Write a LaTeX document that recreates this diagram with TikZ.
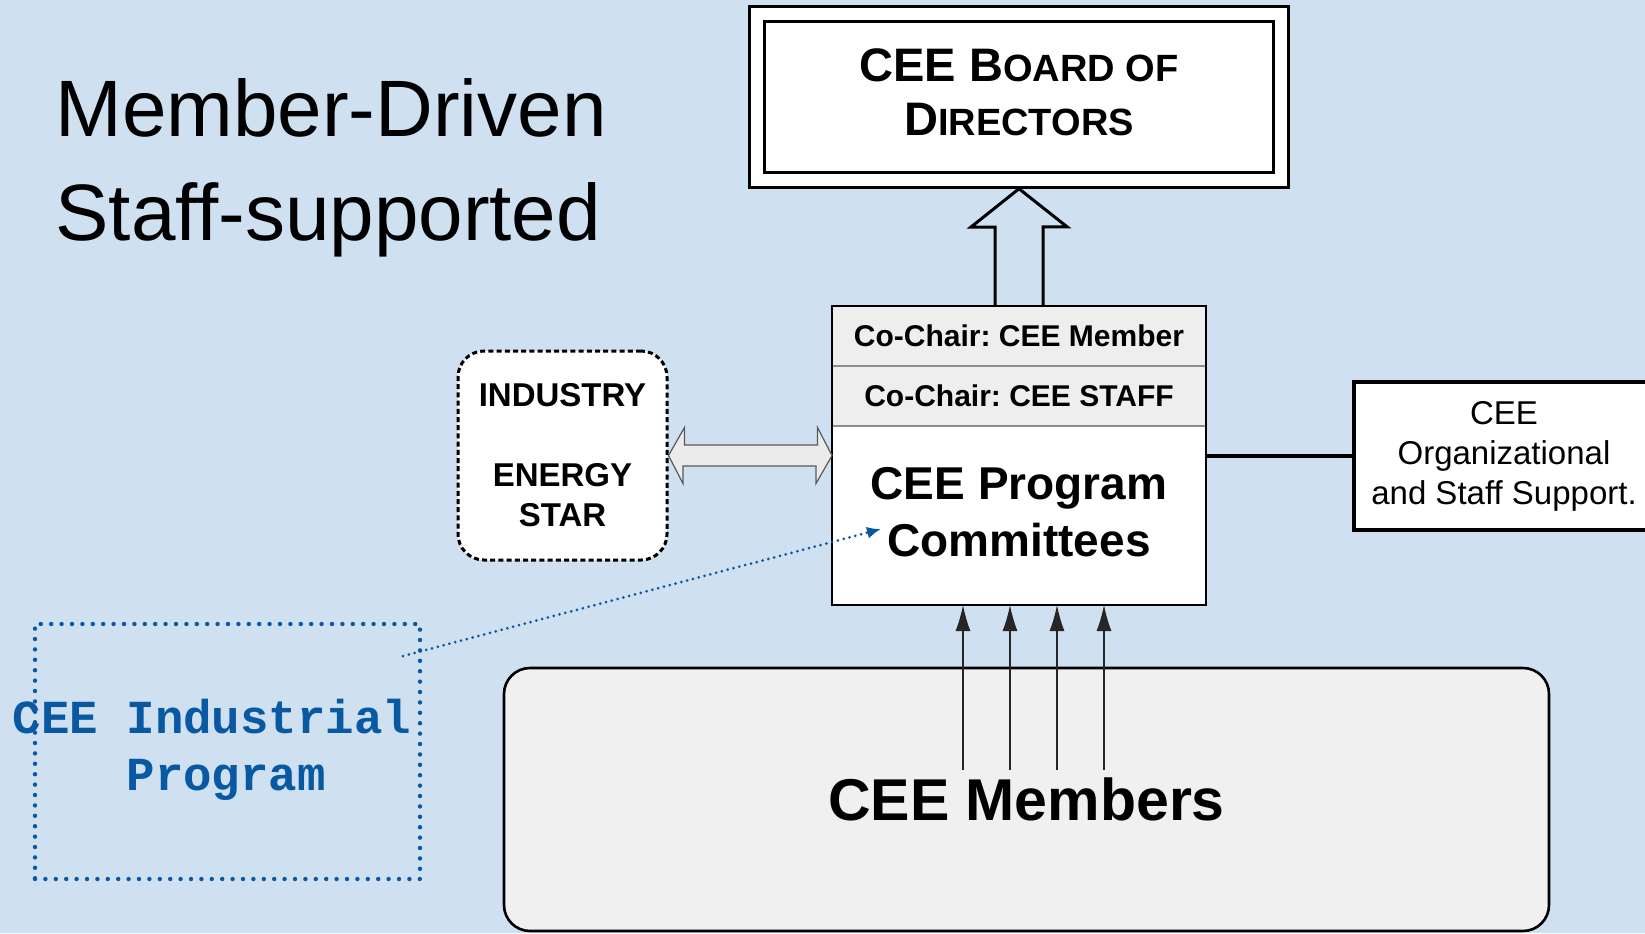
\documentclass[tikz,border=0pt]{standalone}
\usepackage{fontspec}
\setmainfont{Liberation Sans}
\newfontfamily\ipfont{Liberation Mono}
\usetikzlibrary{arrows.meta,positioning}
\definecolor{bgblue}{RGB}{207,224,241}
\definecolor{ipblue}{RGB}{8,88,162}
\definecolor{rowgray}{RGB}{238,238,238}
\definecolor{memgray}{RGB}{240,240,240}
\newcommand{\smc}[1]{{\fontsize{19}{27}\selectfont #1}}
\frenchspacing

\tikzset{
  boardbox/.style={draw, fill=white, line width=1.5pt, double=white, double distance=6pt,
    outer sep=4.5pt, minimum width=262pt, minimum height=82.75pt, align=center,
    font=\fontsize{23.5}{27}\selectfont\bfseries},
  chairrow/.style={draw=black!45, line width=0.6pt, fill=rowgray, outer sep=0pt,
    minimum width=187pt, minimum height=30pt, font=\fontsize{15}{18}\selectfont\bfseries},
  progbox/.style={draw=black!45, line width=0.6pt, fill=white, outer sep=0pt,
    minimum width=187pt, minimum height=89.5pt, align=center,
    font=\fontsize{23}{28.5}\selectfont\bfseries},
  partnerbox/.style={draw, fill=white, line width=1.5pt, dash pattern=on 2.5pt off 1.6pt,
    rounded corners=13pt, minimum width=104.5pt, minimum height=104.5pt, align=center,
    font=\fontsize{16.5}{20}\selectfont\bfseries},
  supportbox/.style={draw, fill=white, line width=2.2pt, minimum width=150pt,
    minimum height=74pt, align=center, font=\fontsize{16.5}{20}\selectfont},
  ipframe/.style={draw=ipblue, line width=2.2pt, line cap=round, dash pattern=on 0pt off 5.2pt,
    minimum width=192.5pt, minimum height=127.5pt},
  iptext/.style={text=ipblue, align=center, font=\ipfont\fontsize{23.7}{28.5}\selectfont\bfseries},
  memberbox/.style={draw, fill=memgray, line width=1.3pt, rounded corners=13pt,
    minimum width=522.5pt, minimum height=131.5pt, font=\fontsize{29.5}{34}\selectfont\bfseries},
  hollowup/.style={draw, line width=1.5pt, line join=miter},
  dblarrow/.style={draw=black!65, fill=black!8, line width=0.6pt},
  memberarrow/.style={draw=black!85, line width=0.6pt, -{Latex[length=13pt,width=7.5pt]}},
  iplink/.style={draw=ipblue, line width=1.5pt, line cap=round, dash pattern=on 0pt off 3pt,
    -{Latex[length=7pt,width=6pt]}}
}

\begin{document}
\begin{tikzpicture}[x=0.5pt, y=-0.5pt]
  \useasboundingbox (0,0) rectangle (1645,933);
  \clip (0,0) rectangle (1645,933);
  \fill[bgblue] (0,0) rectangle (1645,933);

  \node[anchor=north west, inner sep=0pt, align=left, font=\fontsize{40}{52}\selectfont]
    (title) at (55,78) {Member-Driven\\Staff-supported};

  \node[boardbox] (board) at (1019,97) {CEE B\smc{OARD OF}\\D\smc{IRECTORS}\rule[-5pt]{0pt}{0pt}};

  \node[chairrow] (row1) at (1019,336) {Co-Chair: CEE Member};
  \node[chairrow, below=0pt of row1] (row2) {Co-Chair: CEE STAFF};
  \node[progbox, below=0pt of row2] (main) {CEE Program\\Committees\rule[-4pt]{0pt}{0pt}};
  \draw[line width=1.2pt] (row1.north west) rectangle (main.south east);

  \draw[hollowup] ([xshift=-12pt]row1.north) -- ++(0,-79) -- ++(-24,0) -- (board.south)
    -- ++(48,38) -- ++(-24,0) -- ([xshift=12pt]row1.north);

  \node[partnerbox] (industry) at (562.5,455.5) {INDUSTRY\\[20pt]ENERGY\\STAR};
  \draw[dblarrow] (industry.east) -- ++(16,-28) -- ++(0,17.5) -- ++(133,0) -- ++(0,-17.5)
    -- (industry.east -| main.west) -- ++(-16,28) -- ++(0,-17.5) -- ++(-133,0)
    -- ++(0,17.5) -- cycle;

  \node[supportbox] (support) at (1504,456) {CEE\\Organizational\\and Staff Support.};
  \draw[line width=2.2pt] (main.east |- support.west) -- (support.west);

  \node[ipframe] (ipbox) at (227.5,751.5) {};
  \node[iptext] (ipname) at (212,750) {CEE Industrial\\\phantom{x}Program};
  \coordinate (ipout) at (403,656);
  \coordinate (ipin) at (881,529);
  \draw[iplink] (ipout) -- (ipin);

  \node[memberbox] (members) at (1026.5,799.5) {CEE Members};
  \foreach \x [count=\i] in {963,1010,1057,1104} {
    \coordinate (m\i) at (\x,770);
    \draw[memberarrow] (m\i) -- (m\i |- main.south);
  }
\end{tikzpicture}
\end{document}
